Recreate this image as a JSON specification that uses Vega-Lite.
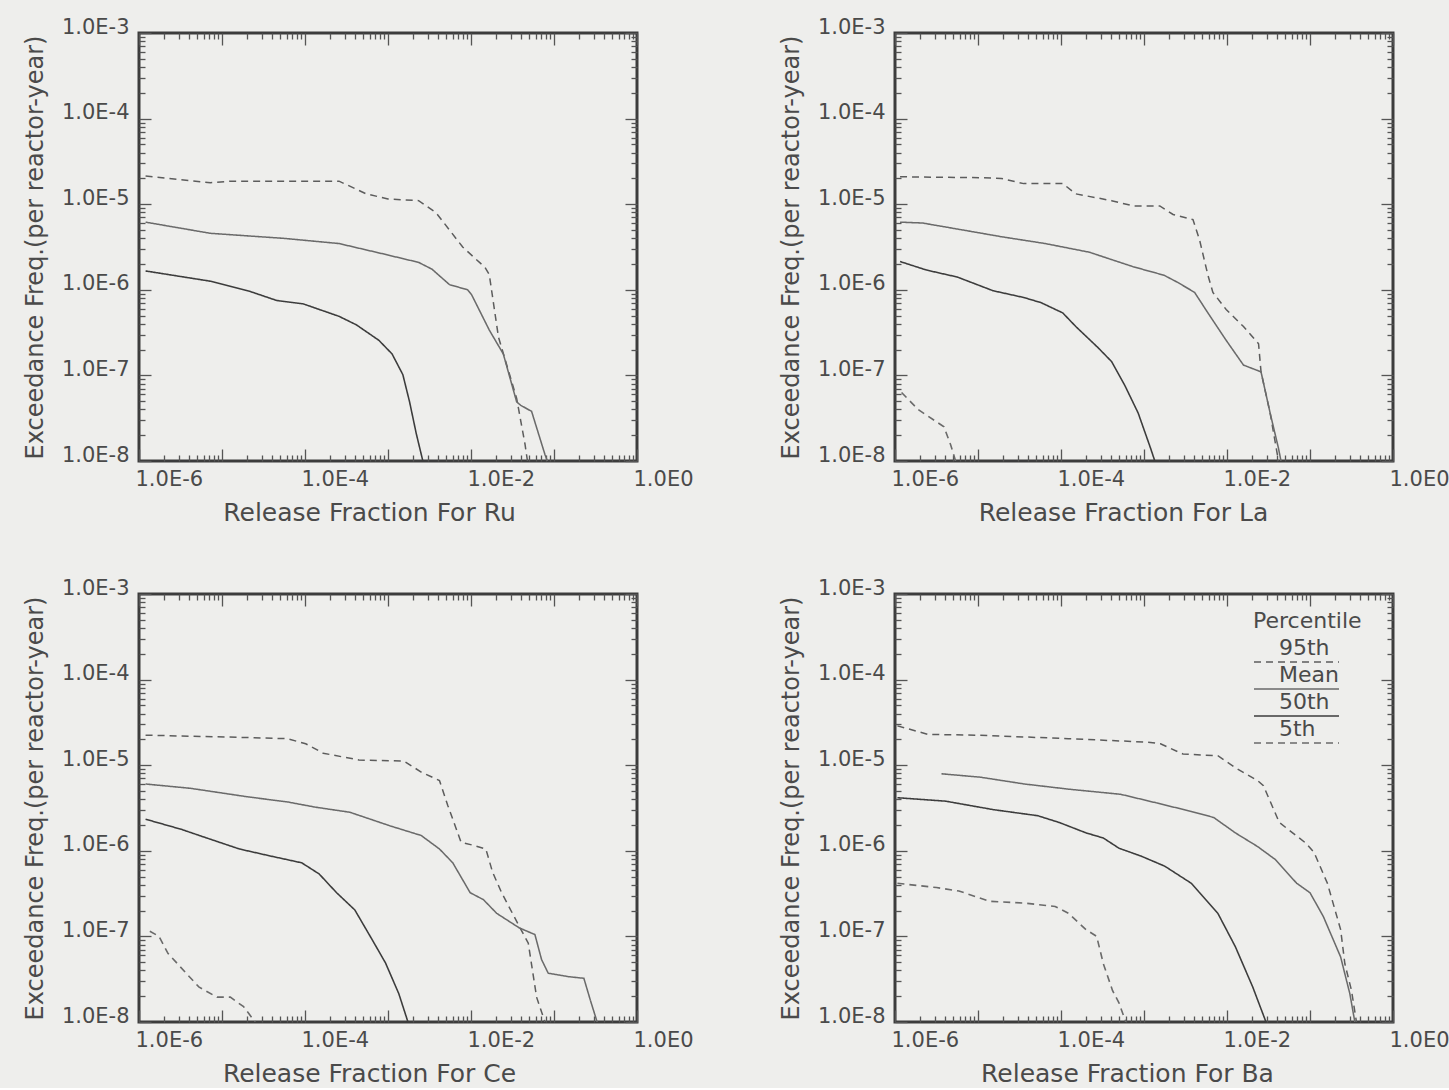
{
  "$schema": "https://vega.github.io/schema/vega-lite/v6.json",
  "background": "#eeeeec",
  "padding": {"left": 21, "top": 14, "right": 0, "bottom": 0},
  "config": {
    "font": "DejaVu Sans",
    "view": {"stroke": "#3c3c3c", "strokeWidth": 3},
    "axis": {"labelFontSize": 21, "labelColor": "#4a4a4a", "titleFontWeight": "normal", "titleColor": "#4a4a4a", "tickColor": "#555555", "tickWidth": 1.3},
    "axisX": {"titleFontSize": 25},
    "axisY": {"titleFontSize": 24},
    "legend": {"titleFontSize": 22, "labelFontSize": 22, "titleFontWeight": "normal", "titleColor": "#4a4a4a", "labelColor": "#4a4a4a"}
  },
  "datasets": {
    "curves": [
      {"el":"Ru","pct":"95th","x":1.20e-6,"y":2.14e-5},{"el":"Ru","pct":"95th","x":7.24e-6,"y":1.78e-5},{"el":"Ru","pct":"95th","x":1.26e-5,"y":1.86e-5},{"el":"Ru","pct":"95th","x":2.57e-4,"y":1.86e-5},{"el":"Ru","pct":"95th","x":5.37e-4,"y":1.33e-5},{"el":"Ru","pct":"95th","x":1.0e-3,"y":1.15e-5},{"el":"Ru","pct":"95th","x":2.34e-3,"y":1.10e-5},{"el":"Ru","pct":"95th","x":3.80e-3,"y":7.94e-6},{"el":"Ru","pct":"95th","x":7.94e-3,"y":3.16e-6},{"el":"Ru","pct":"95th","x":1.48e-2,"y":1.82e-6},{"el":"Ru","pct":"95th","x":1.66e-2,"y":1.51e-6},{"el":"Ru","pct":"95th","x":2.14e-2,"y":2.82e-7},{"el":"Ru","pct":"95th","x":3.55e-2,"y":5.37e-8},{"el":"Ru","pct":"95th","x":4.47e-2,"y":1.58e-8},{"el":"Ru","pct":"95th","x":4.79e-2,"y":1.0e-8},
      {"el":"Ru","pct":"Mean","x":1.20e-6,"y":6.17e-6},{"el":"Ru","pct":"Mean","x":7.24e-6,"y":4.57e-6},{"el":"Ru","pct":"Mean","x":5.75e-5,"y":3.98e-6},{"el":"Ru","pct":"Mean","x":2.57e-4,"y":3.47e-6},{"el":"Ru","pct":"Mean","x":8.71e-4,"y":2.63e-6},{"el":"Ru","pct":"Mean","x":2.34e-3,"y":2.09e-6},{"el":"Ru","pct":"Mean","x":3.39e-3,"y":1.74e-6},{"el":"Ru","pct":"Mean","x":5.50e-3,"y":1.15e-6},{"el":"Ru","pct":"Mean","x":9.12e-3,"y":1.0e-6},{"el":"Ru","pct":"Mean","x":1.02e-2,"y":8.71e-7},{"el":"Ru","pct":"Mean","x":1.66e-2,"y":3.39e-7},{"el":"Ru","pct":"Mean","x":2.45e-2,"y":1.78e-7},{"el":"Ru","pct":"Mean","x":3.55e-2,"y":4.90e-8},{"el":"Ru","pct":"Mean","x":3.98e-2,"y":4.47e-8},{"el":"Ru","pct":"Mean","x":5.37e-2,"y":3.80e-8},{"el":"Ru","pct":"Mean","x":7.76e-2,"y":1.20e-8},{"el":"Ru","pct":"Mean","x":8.32e-2,"y":1.0e-8},
      {"el":"Ru","pct":"50th","x":1.20e-6,"y":1.66e-6},{"el":"Ru","pct":"50th","x":7.24e-6,"y":1.26e-6},{"el":"Ru","pct":"50th","x":2.19e-5,"y":9.55e-7},{"el":"Ru","pct":"50th","x":4.57e-5,"y":7.50e-7},{"el":"Ru","pct":"50th","x":9.55e-5,"y":6.84e-7},{"el":"Ru","pct":"50th","x":2.57e-4,"y":4.90e-7},{"el":"Ru","pct":"50th","x":4.17e-4,"y":3.89e-7},{"el":"Ru","pct":"50th","x":7.76e-4,"y":2.57e-7},{"el":"Ru","pct":"50th","x":1.12e-3,"y":1.78e-7},{"el":"Ru","pct":"50th","x":1.51e-3,"y":1.02e-7},{"el":"Ru","pct":"50th","x":1.82e-3,"y":4.90e-8},{"el":"Ru","pct":"50th","x":2.19e-3,"y":2.09e-8},{"el":"Ru","pct":"50th","x":2.63e-3,"y":1.0e-8},

      {"el":"La","pct":"95th","x":1.15e-6,"y":2.09e-5},{"el":"La","pct":"95th","x":1.05e-5,"y":2.04e-5},{"el":"La","pct":"95th","x":1.91e-5,"y":2.00e-5},{"el":"La","pct":"95th","x":3.55e-5,"y":1.74e-5},{"el":"La","pct":"95th","x":1.05e-4,"y":1.74e-5},{"el":"La","pct":"95th","x":1.51e-4,"y":1.32e-5},{"el":"La","pct":"95th","x":4.07e-4,"y":1.10e-5},{"el":"La","pct":"95th","x":7.41e-4,"y":9.55e-6},{"el":"La","pct":"95th","x":1.55e-3,"y":9.55e-6},{"el":"La","pct":"95th","x":2.24e-3,"y":7.59e-6},{"el":"La","pct":"95th","x":3.89e-3,"y":6.61e-6},{"el":"La","pct":"95th","x":4.68e-3,"y":3.80e-6},{"el":"La","pct":"95th","x":5.89e-3,"y":1.48e-6},{"el":"La","pct":"95th","x":6.76e-3,"y":9.33e-7},{"el":"La","pct":"95th","x":9.77e-3,"y":5.89e-7},{"el":"La","pct":"95th","x":1.58e-2,"y":3.72e-7},{"el":"La","pct":"95th","x":2.40e-2,"y":2.34e-7},{"el":"La","pct":"95th","x":2.57e-2,"y":1.10e-7},{"el":"La","pct":"95th","x":3.31e-2,"y":3.63e-8},{"el":"La","pct":"95th","x":4.17e-2,"y":1.0e-8},
      {"el":"La","pct":"Mean","x":1.15e-6,"y":6.17e-6},{"el":"La","pct":"Mean","x":2.14e-6,"y":6.03e-6},{"el":"La","pct":"Mean","x":5.62e-6,"y":5.13e-6},{"el":"La","pct":"Mean","x":1.91e-5,"y":4.17e-6},{"el":"La","pct":"Mean","x":6.46e-5,"y":3.47e-6},{"el":"La","pct":"Mean","x":2.19e-4,"y":2.75e-6},{"el":"La","pct":"Mean","x":7.41e-4,"y":1.86e-6},{"el":"La","pct":"Mean","x":1.74e-3,"y":1.48e-6},{"el":"La","pct":"Mean","x":2.51e-3,"y":1.23e-6},{"el":"La","pct":"Mean","x":4.07e-3,"y":9.33e-7},{"el":"La","pct":"Mean","x":5.89e-3,"y":5.37e-7},{"el":"La","pct":"Mean","x":9.77e-3,"y":2.57e-7},{"el":"La","pct":"Mean","x":1.58e-2,"y":1.32e-7},{"el":"La","pct":"Mean","x":2.57e-2,"y":1.10e-7},{"el":"La","pct":"Mean","x":3.31e-2,"y":3.63e-8},{"el":"La","pct":"Mean","x":4.17e-2,"y":1.41e-8},{"el":"La","pct":"Mean","x":4.47e-2,"y":1.0e-8},
      {"el":"La","pct":"50th","x":1.15e-6,"y":2.14e-6},{"el":"La","pct":"50th","x":2.40e-6,"y":1.70e-6},{"el":"La","pct":"50th","x":5.62e-6,"y":1.41e-6},{"el":"La","pct":"50th","x":1.51e-5,"y":9.77e-7},{"el":"La","pct":"50th","x":3.55e-5,"y":8.13e-7},{"el":"La","pct":"50th","x":5.75e-5,"y":7.08e-7},{"el":"La","pct":"50th","x":1.05e-4,"y":5.37e-7},{"el":"La","pct":"50th","x":1.51e-4,"y":3.72e-7},{"el":"La","pct":"50th","x":2.82e-4,"y":2.09e-7},{"el":"La","pct":"50th","x":4.07e-4,"y":1.45e-7},{"el":"La","pct":"50th","x":5.89e-4,"y":7.59e-8},{"el":"La","pct":"50th","x":8.51e-4,"y":3.63e-8},{"el":"La","pct":"50th","x":1.20e-3,"y":1.41e-8},{"el":"La","pct":"50th","x":1.35e-3,"y":1.0e-8},
      {"el":"La","pct":"5th","x":1.20e-6,"y":6.31e-8},{"el":"La","pct":"5th","x":1.91e-6,"y":3.98e-8},{"el":"La","pct":"5th","x":3.89e-6,"y":2.51e-8},{"el":"La","pct":"5th","x":4.68e-6,"y":1.55e-8},{"el":"La","pct":"5th","x":5.37e-6,"y":1.0e-8},

      {"el":"Ce","pct":"95th","x":1.20e-6,"y":2.24e-5},{"el":"Ce","pct":"95th","x":1.10e-5,"y":2.14e-5},{"el":"Ce","pct":"95th","x":6.17e-5,"y":2.04e-5},{"el":"Ce","pct":"95th","x":1.02e-4,"y":1.78e-5},{"el":"Ce","pct":"95th","x":1.66e-4,"y":1.38e-5},{"el":"Ce","pct":"95th","x":4.47e-4,"y":1.15e-5},{"el":"Ce","pct":"95th","x":1.55e-3,"y":1.12e-5},{"el":"Ce","pct":"95th","x":2.51e-3,"y":8.32e-6},{"el":"Ce","pct":"95th","x":4.17e-3,"y":6.61e-6},{"el":"Ce","pct":"95th","x":5.25e-3,"y":3.39e-6},{"el":"Ce","pct":"95th","x":7.59e-3,"y":1.26e-6},{"el":"Ce","pct":"95th","x":1.10e-2,"y":1.15e-6},{"el":"Ce","pct":"95th","x":1.51e-2,"y":1.05e-6},{"el":"Ce","pct":"95th","x":1.82e-2,"y":5.62e-7},{"el":"Ce","pct":"95th","x":2.34e-2,"y":3.24e-7},{"el":"Ce","pct":"95th","x":3.80e-2,"y":1.32e-7},{"el":"Ce","pct":"95th","x":4.90e-2,"y":8.32e-8},{"el":"Ce","pct":"95th","x":6.17e-2,"y":1.95e-8},{"el":"Ce","pct":"95th","x":7.41e-2,"y":1.15e-8},{"el":"Ce","pct":"95th","x":7.76e-2,"y":1.0e-8},
      {"el":"Ce","pct":"Mean","x":1.20e-6,"y":6.03e-6},{"el":"Ce","pct":"Mean","x":4.17e-6,"y":5.37e-6},{"el":"Ce","pct":"Mean","x":2.04e-5,"y":4.27e-6},{"el":"Ce","pct":"Mean","x":6.17e-5,"y":3.72e-6},{"el":"Ce","pct":"Mean","x":1.32e-4,"y":3.24e-6},{"el":"Ce","pct":"Mean","x":3.47e-4,"y":2.82e-6},{"el":"Ce","pct":"Mean","x":1.07e-3,"y":1.95e-6},{"el":"Ce","pct":"Mean","x":2.51e-3,"y":1.51e-6},{"el":"Ce","pct":"Mean","x":4.17e-3,"y":1.05e-6},{"el":"Ce","pct":"Mean","x":6.03e-3,"y":7.24e-7},{"el":"Ce","pct":"Mean","x":9.77e-3,"y":3.24e-7},{"el":"Ce","pct":"Mean","x":1.41e-2,"y":2.69e-7},{"el":"Ce","pct":"Mean","x":2.04e-2,"y":1.86e-7},{"el":"Ce","pct":"Mean","x":3.80e-2,"y":1.26e-7},{"el":"Ce","pct":"Mean","x":5.89e-2,"y":1.05e-7},{"el":"Ce","pct":"Mean","x":7.08e-2,"y":5.37e-8},{"el":"Ce","pct":"Mean","x":8.51e-2,"y":3.72e-8},{"el":"Ce","pct":"Mean","x":1.48e-1,"y":3.39e-8},{"el":"Ce","pct":"Mean","x":2.29e-1,"y":3.24e-8},{"el":"Ce","pct":"Mean","x":2.75e-1,"y":1.78e-8},{"el":"Ce","pct":"Mean","x":3.31e-1,"y":1.0e-8},
      {"el":"Ce","pct":"50th","x":1.20e-6,"y":2.34e-6},{"el":"Ce","pct":"50th","x":3.24e-6,"y":1.78e-6},{"el":"Ce","pct":"50th","x":6.03e-6,"y":1.45e-6},{"el":"Ce","pct":"50th","x":1.62e-5,"y":1.05e-6},{"el":"Ce","pct":"50th","x":3.80e-5,"y":8.71e-7},{"el":"Ce","pct":"50th","x":9.12e-5,"y":7.24e-7},{"el":"Ce","pct":"50th","x":1.48e-4,"y":5.37e-7},{"el":"Ce","pct":"50th","x":2.40e-4,"y":3.24e-7},{"el":"Ce","pct":"50th","x":3.98e-4,"y":2.04e-7},{"el":"Ce","pct":"50th","x":6.46e-4,"y":9.12e-8},{"el":"Ce","pct":"50th","x":9.33e-4,"y":4.90e-8},{"el":"Ce","pct":"50th","x":1.35e-3,"y":2.14e-8},{"el":"Ce","pct":"50th","x":1.74e-3,"y":1.0e-8},
      {"el":"Ce","pct":"5th","x":1.35e-6,"y":1.15e-7},{"el":"Ce","pct":"5th","x":1.74e-6,"y":1.0e-7},{"el":"Ce","pct":"5th","x":2.24e-6,"y":6.31e-8},{"el":"Ce","pct":"5th","x":5.25e-6,"y":2.57e-8},{"el":"Ce","pct":"5th","x":8.71e-6,"y":1.95e-8},{"el":"Ce","pct":"5th","x":1.26e-5,"y":1.95e-8},{"el":"Ce","pct":"5th","x":1.82e-5,"y":1.51e-8},{"el":"Ce","pct":"5th","x":2.51e-5,"y":1.0e-8},

      {"el":"Ba","pct":"95th","x":1.07e-6,"y":2.88e-5},{"el":"Ba","pct":"95th","x":2.51e-6,"y":2.29e-5},{"el":"Ba","pct":"95th","x":1.07e-5,"y":2.24e-5},{"el":"Ba","pct":"95th","x":1.23e-4,"y":2.04e-5},{"el":"Ba","pct":"95th","x":1.10e-3,"y":1.86e-5},{"el":"Ba","pct":"95th","x":1.58e-3,"y":1.78e-5},{"el":"Ba","pct":"95th","x":2.95e-3,"y":1.35e-5},{"el":"Ba","pct":"95th","x":7.76e-3,"y":1.29e-5},{"el":"Ba","pct":"95th","x":1.26e-2,"y":9.33e-6},{"el":"Ba","pct":"95th","x":2.34e-2,"y":6.61e-6},{"el":"Ba","pct":"95th","x":2.75e-2,"y":5.75e-6},{"el":"Ba","pct":"95th","x":4.27e-2,"y":2.14e-6},{"el":"Ba","pct":"95th","x":8.91e-2,"y":1.23e-6},{"el":"Ba","pct":"95th","x":1.12e-1,"y":9.55e-7},{"el":"Ba","pct":"95th","x":1.62e-1,"y":4.17e-7},{"el":"Ba","pct":"95th","x":2.34e-1,"y":1.20e-7},{"el":"Ba","pct":"95th","x":2.63e-1,"y":4.79e-8},{"el":"Ba","pct":"95th","x":3.16e-1,"y":2.34e-8},{"el":"Ba","pct":"95th","x":3.63e-1,"y":1.0e-8},
      {"el":"Ba","pct":"Mean","x":3.63e-6,"y":7.94e-6},{"el":"Ba","pct":"Mean","x":1.07e-5,"y":7.24e-6},{"el":"Ba","pct":"Mean","x":3.63e-5,"y":6.03e-6},{"el":"Ba","pct":"Mean","x":1.23e-4,"y":5.25e-6},{"el":"Ba","pct":"Mean","x":5.25e-4,"y":4.57e-6},{"el":"Ba","pct":"Mean","x":1.41e-3,"y":3.63e-6},{"el":"Ba","pct":"Mean","x":3.72e-3,"y":2.88e-6},{"el":"Ba","pct":"Mean","x":6.92e-3,"y":2.45e-6},{"el":"Ba","pct":"Mean","x":1.26e-2,"y":1.62e-6},{"el":"Ba","pct":"Mean","x":2.34e-2,"y":1.12e-6},{"el":"Ba","pct":"Mean","x":3.80e-2,"y":7.94e-7},{"el":"Ba","pct":"Mean","x":6.92e-2,"y":4.17e-7},{"el":"Ba","pct":"Mean","x":1.0e-1,"y":3.24e-7},{"el":"Ba","pct":"Mean","x":1.45e-1,"y":1.70e-7},{"el":"Ba","pct":"Mean","x":2.34e-1,"y":5.75e-8},{"el":"Ba","pct":"Mean","x":3.02e-1,"y":2.14e-8},{"el":"Ba","pct":"Mean","x":3.47e-1,"y":1.0e-8},
      {"el":"Ba","pct":"50th","x":1.07e-6,"y":4.17e-6},{"el":"Ba","pct":"50th","x":4.07e-6,"y":3.80e-6},{"el":"Ba","pct":"50th","x":1.55e-5,"y":3.02e-6},{"el":"Ba","pct":"50th","x":5.25e-5,"y":2.57e-6},{"el":"Ba","pct":"50th","x":9.55e-5,"y":2.14e-6},{"el":"Ba","pct":"50th","x":2.00e-4,"y":1.62e-6},{"el":"Ba","pct":"50th","x":3.24e-4,"y":1.41e-6},{"el":"Ba","pct":"50th","x":5.01e-4,"y":1.07e-6},{"el":"Ba","pct":"50th","x":9.12e-4,"y":8.71e-7},{"el":"Ba","pct":"50th","x":1.78e-3,"y":6.61e-7},{"el":"Ba","pct":"50th","x":3.72e-3,"y":4.17e-7},{"el":"Ba","pct":"50th","x":7.76e-3,"y":1.86e-7},{"el":"Ba","pct":"50th","x":1.26e-2,"y":7.59e-8},{"el":"Ba","pct":"50th","x":2.04e-2,"y":2.57e-8},{"el":"Ba","pct":"50th","x":2.95e-2,"y":1.0e-8},
      {"el":"Ba","pct":"5th","x":1.07e-6,"y":4.17e-7},{"el":"Ba","pct":"5th","x":3.16e-6,"y":3.72e-7},{"el":"Ba","pct":"5th","x":5.89e-6,"y":3.39e-7},{"el":"Ba","pct":"5th","x":1.38e-5,"y":2.57e-7},{"el":"Ba","pct":"5th","x":3.63e-5,"y":2.45e-7},{"el":"Ba","pct":"5th","x":8.51e-5,"y":2.24e-7},{"el":"Ba","pct":"5th","x":1.23e-4,"y":1.86e-7},{"el":"Ba","pct":"5th","x":2.00e-4,"y":1.20e-7},{"el":"Ba","pct":"5th","x":2.69e-4,"y":1.0e-7},{"el":"Ba","pct":"5th","x":3.24e-4,"y":4.79e-8},{"el":"Ba","pct":"5th","x":4.17e-4,"y":2.34e-8},{"el":"Ba","pct":"5th","x":5.01e-4,"y":1.66e-8},{"el":"Ba","pct":"5th","x":6.03e-4,"y":1.0e-8}
    ]
  },
  "columns": 2,
  "spacing": {"row": 48, "column": 82},
  "resolve": {"scale": {"color": "independent", "strokeDash": "independent", "strokeWidth": "independent"}},
  "concat": [
    {
      "width": 498, "height": 428,
      "data": {"name": "curves"},
      "transform": [{"filter": "datum.el == 'Ru'"}],
      "layer": [
        {
          "mark": {"type": "line", "clip": true},
          "encoding": {
            "x": {"field": "x", "type": "quantitative", "title": "Release Fraction For Ru", "scale": {"type": "log", "domain": [1e-6, 1], "nice": false},
              "axis": {"orient": "bottom", "values": [1e-6,2e-6,3e-6,4e-6,5e-6,6e-6,7e-6,8e-6,9e-6,1e-5,2e-5,3e-5,4e-5,5e-5,6e-5,7e-5,8e-5,9e-5,1e-4,2e-4,3e-4,4e-4,5e-4,6e-4,7e-4,8e-4,9e-4,1e-3,2e-3,3e-3,4e-3,5e-3,6e-3,7e-3,8e-3,9e-3,1e-2,2e-2,3e-2,4e-2,5e-2,6e-2,7e-2,8e-2,9e-2,1e-1,2e-1,3e-1,4e-1,5e-1,6e-1,7e-1,8e-1,9e-1,1], "domain": false, "grid": false,
                "tickSize": {"condition": {"test": "abs(log(datum.value)/LN10 - round(log(datum.value)/LN10)) < 0.001", "value": -12}, "value": -6},
                "labelExpr": "abs(log(datum.value)/LN10 - round(log(datum.value)/LN10)) < 0.001 && round(log(datum.value)/LN10) % 2 == 0 ? '1.0E' + round(log(datum.value)/LN10) : ''",
                "labelAlign": "left", "labelBaseline": "top", "labelPadding": 19, "labelOffset": -4, "labelOverlap": false, "labelFlush": false, "titleX": 230, "titlePadding": 5}},
            "y": {"field": "y", "type": "quantitative", "title": "Exceedance Freq.(per reactor-year)", "scale": {"type": "log", "domain": [1e-8, 1e-3], "nice": false},
              "axis": {"orient": "left", "values": [1e-8,2e-8,3e-8,4e-8,5e-8,6e-8,7e-8,8e-8,9e-8,1e-7,2e-7,3e-7,4e-7,5e-7,6e-7,7e-7,8e-7,9e-7,1e-6,2e-6,3e-6,4e-6,5e-6,6e-6,7e-6,8e-6,9e-6,1e-5,2e-5,3e-5,4e-5,5e-5,6e-5,7e-5,8e-5,9e-5,1e-4,2e-4,3e-4,4e-4,5e-4,6e-4,7e-4,8e-4,9e-4,1e-3], "domain": false, "grid": false,
                "tickSize": {"condition": {"test": "abs(log(datum.value)/LN10 - round(log(datum.value)/LN10)) < 0.001", "value": -12}, "value": -6},
                "labelExpr": "abs(log(datum.value)/LN10 - round(log(datum.value)/LN10)) < 0.001 ? '1.0E' + round(log(datum.value)/LN10) : ''",
                "labelBaseline": "alphabetic", "labelPadding": 22, "labelOverlap": false, "labelFlush": false, "titlePadding": 14}},
            "strokeDash": {"field": "pct", "type": "nominal", "scale": {"domain": ["95th","Mean","50th","5th"], "range": [[7,5],[1,0],[1,0],[7,5]]}, "legend": null},
            "strokeWidth": {"field": "pct", "type": "nominal", "scale": {"domain": ["95th","Mean","50th","5th"], "range": [1.5,1.6,3,1.5]}, "legend": null},
            "color": {"field": "pct", "type": "nominal", "scale": {"domain": ["95th","Mean","50th","5th"], "range": ["#5c5c5c","#6a6a6a","#3c3c3c","#6a6a6a"]}, "legend": null}
          }
        },
        {
          "mark": {"type": "line", "opacity": 0},
          "encoding": {
            "x": {"field": "x", "type": "quantitative", "axis": {"orient": "top", "values": [1e-6,2e-6,3e-6,4e-6,5e-6,6e-6,7e-6,8e-6,9e-6,1e-5,2e-5,3e-5,4e-5,5e-5,6e-5,7e-5,8e-5,9e-5,1e-4,2e-4,3e-4,4e-4,5e-4,6e-4,7e-4,8e-4,9e-4,1e-3,2e-3,3e-3,4e-3,5e-3,6e-3,7e-3,8e-3,9e-3,1e-2,2e-2,3e-2,4e-2,5e-2,6e-2,7e-2,8e-2,9e-2,1e-1,2e-1,3e-1,4e-1,5e-1,6e-1,7e-1,8e-1,9e-1,1], "domain": false, "grid": false, "labels": false, "title": null,
              "tickSize": {"condition": {"test": "abs(log(datum.value)/LN10 - round(log(datum.value)/LN10)) < 0.001", "value": -12}, "value": -6}}},
            "y": {"field": "y", "type": "quantitative", "axis": {"orient": "right", "values": [1e-8,2e-8,3e-8,4e-8,5e-8,6e-8,7e-8,8e-8,9e-8,1e-7,2e-7,3e-7,4e-7,5e-7,6e-7,7e-7,8e-7,9e-7,1e-6,2e-6,3e-6,4e-6,5e-6,6e-6,7e-6,8e-6,9e-6,1e-5,2e-5,3e-5,4e-5,5e-5,6e-5,7e-5,8e-5,9e-5,1e-4,2e-4,3e-4,4e-4,5e-4,6e-4,7e-4,8e-4,9e-4,1e-3], "domain": false, "grid": false, "labels": false, "title": null,
              "tickSize": {"condition": {"test": "abs(log(datum.value)/LN10 - round(log(datum.value)/LN10)) < 0.001", "value": -12}, "value": -6}}}
          }
        }
      ],
      "resolve": {"axis": {"x": "independent", "y": "independent"}}
    },
    {
      "width": 498, "height": 428,
      "data": {"name": "curves"},
      "transform": [{"filter": "datum.el == 'La'"}],
      "layer": [
        {
          "mark": {"type": "line", "clip": true},
          "encoding": {
            "x": {"field": "x", "type": "quantitative", "title": "Release Fraction For La", "scale": {"type": "log", "domain": [1e-6, 1], "nice": false},
              "axis": {"orient": "bottom", "values": [1e-6,2e-6,3e-6,4e-6,5e-6,6e-6,7e-6,8e-6,9e-6,1e-5,2e-5,3e-5,4e-5,5e-5,6e-5,7e-5,8e-5,9e-5,1e-4,2e-4,3e-4,4e-4,5e-4,6e-4,7e-4,8e-4,9e-4,1e-3,2e-3,3e-3,4e-3,5e-3,6e-3,7e-3,8e-3,9e-3,1e-2,2e-2,3e-2,4e-2,5e-2,6e-2,7e-2,8e-2,9e-2,1e-1,2e-1,3e-1,4e-1,5e-1,6e-1,7e-1,8e-1,9e-1,1], "domain": false, "grid": false,
                "tickSize": {"condition": {"test": "abs(log(datum.value)/LN10 - round(log(datum.value)/LN10)) < 0.001", "value": -12}, "value": -6},
                "labelExpr": "abs(log(datum.value)/LN10 - round(log(datum.value)/LN10)) < 0.001 && round(log(datum.value)/LN10) % 2 == 0 ? '1.0E' + round(log(datum.value)/LN10) : ''",
                "labelAlign": "left", "labelBaseline": "top", "labelPadding": 19, "labelOffset": -4, "labelOverlap": false, "labelFlush": false, "titleX": 228, "titlePadding": 5}},
            "y": {"field": "y", "type": "quantitative", "title": "Exceedance Freq.(per reactor-year)", "scale": {"type": "log", "domain": [1e-8, 1e-3], "nice": false},
              "axis": {"orient": "left", "values": [1e-8,2e-8,3e-8,4e-8,5e-8,6e-8,7e-8,8e-8,9e-8,1e-7,2e-7,3e-7,4e-7,5e-7,6e-7,7e-7,8e-7,9e-7,1e-6,2e-6,3e-6,4e-6,5e-6,6e-6,7e-6,8e-6,9e-6,1e-5,2e-5,3e-5,4e-5,5e-5,6e-5,7e-5,8e-5,9e-5,1e-4,2e-4,3e-4,4e-4,5e-4,6e-4,7e-4,8e-4,9e-4,1e-3], "domain": false, "grid": false,
                "tickSize": {"condition": {"test": "abs(log(datum.value)/LN10 - round(log(datum.value)/LN10)) < 0.001", "value": -12}, "value": -6},
                "labelExpr": "abs(log(datum.value)/LN10 - round(log(datum.value)/LN10)) < 0.001 ? '1.0E' + round(log(datum.value)/LN10) : ''",
                "labelBaseline": "alphabetic", "labelPadding": 22, "labelOverlap": false, "labelFlush": false, "titlePadding": 14}},
            "strokeDash": {"field": "pct", "type": "nominal", "scale": {"domain": ["95th","Mean","50th","5th"], "range": [[7,5],[1,0],[1,0],[7,5]]}, "legend": null},
            "strokeWidth": {"field": "pct", "type": "nominal", "scale": {"domain": ["95th","Mean","50th","5th"], "range": [1.5,1.6,3,1.5]}, "legend": null},
            "color": {"field": "pct", "type": "nominal", "scale": {"domain": ["95th","Mean","50th","5th"], "range": ["#5c5c5c","#6a6a6a","#3c3c3c","#6a6a6a"]}, "legend": null}
          }
        },
        {
          "mark": {"type": "line", "opacity": 0},
          "encoding": {
            "x": {"field": "x", "type": "quantitative", "axis": {"orient": "top", "values": [1e-6,2e-6,3e-6,4e-6,5e-6,6e-6,7e-6,8e-6,9e-6,1e-5,2e-5,3e-5,4e-5,5e-5,6e-5,7e-5,8e-5,9e-5,1e-4,2e-4,3e-4,4e-4,5e-4,6e-4,7e-4,8e-4,9e-4,1e-3,2e-3,3e-3,4e-3,5e-3,6e-3,7e-3,8e-3,9e-3,1e-2,2e-2,3e-2,4e-2,5e-2,6e-2,7e-2,8e-2,9e-2,1e-1,2e-1,3e-1,4e-1,5e-1,6e-1,7e-1,8e-1,9e-1,1], "domain": false, "grid": false, "labels": false, "title": null,
              "tickSize": {"condition": {"test": "abs(log(datum.value)/LN10 - round(log(datum.value)/LN10)) < 0.001", "value": -12}, "value": -6}}},
            "y": {"field": "y", "type": "quantitative", "axis": {"orient": "right", "values": [1e-8,2e-8,3e-8,4e-8,5e-8,6e-8,7e-8,8e-8,9e-8,1e-7,2e-7,3e-7,4e-7,5e-7,6e-7,7e-7,8e-7,9e-7,1e-6,2e-6,3e-6,4e-6,5e-6,6e-6,7e-6,8e-6,9e-6,1e-5,2e-5,3e-5,4e-5,5e-5,6e-5,7e-5,8e-5,9e-5,1e-4,2e-4,3e-4,4e-4,5e-4,6e-4,7e-4,8e-4,9e-4,1e-3], "domain": false, "grid": false, "labels": false, "title": null,
              "tickSize": {"condition": {"test": "abs(log(datum.value)/LN10 - round(log(datum.value)/LN10)) < 0.001", "value": -12}, "value": -6}}}
          }
        }
      ],
      "resolve": {"axis": {"x": "independent", "y": "independent"}}
    },
    {
      "width": 498, "height": 428,
      "data": {"name": "curves"},
      "transform": [{"filter": "datum.el == 'Ce'"}],
      "layer": [
        {
          "mark": {"type": "line", "clip": true},
          "encoding": {
            "x": {"field": "x", "type": "quantitative", "title": "Release Fraction For Ce", "scale": {"type": "log", "domain": [1e-6, 1], "nice": false},
              "axis": {"orient": "bottom", "values": [1e-6,2e-6,3e-6,4e-6,5e-6,6e-6,7e-6,8e-6,9e-6,1e-5,2e-5,3e-5,4e-5,5e-5,6e-5,7e-5,8e-5,9e-5,1e-4,2e-4,3e-4,4e-4,5e-4,6e-4,7e-4,8e-4,9e-4,1e-3,2e-3,3e-3,4e-3,5e-3,6e-3,7e-3,8e-3,9e-3,1e-2,2e-2,3e-2,4e-2,5e-2,6e-2,7e-2,8e-2,9e-2,1e-1,2e-1,3e-1,4e-1,5e-1,6e-1,7e-1,8e-1,9e-1,1], "domain": false, "grid": false,
                "tickSize": {"condition": {"test": "abs(log(datum.value)/LN10 - round(log(datum.value)/LN10)) < 0.001", "value": -12}, "value": -6},
                "labelExpr": "abs(log(datum.value)/LN10 - round(log(datum.value)/LN10)) < 0.001 && round(log(datum.value)/LN10) % 2 == 0 ? '1.0E' + round(log(datum.value)/LN10) : ''",
                "labelAlign": "left", "labelBaseline": "top", "labelPadding": 19, "labelOffset": -4, "labelOverlap": false, "labelFlush": false, "titleX": 230, "titlePadding": 5}},
            "y": {"field": "y", "type": "quantitative", "title": "Exceedance Freq.(per reactor-year)", "scale": {"type": "log", "domain": [1e-8, 1e-3], "nice": false},
              "axis": {"orient": "left", "values": [1e-8,2e-8,3e-8,4e-8,5e-8,6e-8,7e-8,8e-8,9e-8,1e-7,2e-7,3e-7,4e-7,5e-7,6e-7,7e-7,8e-7,9e-7,1e-6,2e-6,3e-6,4e-6,5e-6,6e-6,7e-6,8e-6,9e-6,1e-5,2e-5,3e-5,4e-5,5e-5,6e-5,7e-5,8e-5,9e-5,1e-4,2e-4,3e-4,4e-4,5e-4,6e-4,7e-4,8e-4,9e-4,1e-3], "domain": false, "grid": false,
                "tickSize": {"condition": {"test": "abs(log(datum.value)/LN10 - round(log(datum.value)/LN10)) < 0.001", "value": -12}, "value": -6},
                "labelExpr": "abs(log(datum.value)/LN10 - round(log(datum.value)/LN10)) < 0.001 ? '1.0E' + round(log(datum.value)/LN10) : ''",
                "labelBaseline": "alphabetic", "labelPadding": 22, "labelOverlap": false, "labelFlush": false, "titlePadding": 14}},
            "strokeDash": {"field": "pct", "type": "nominal", "scale": {"domain": ["95th","Mean","50th","5th"], "range": [[7,5],[1,0],[1,0],[7,5]]}, "legend": null},
            "strokeWidth": {"field": "pct", "type": "nominal", "scale": {"domain": ["95th","Mean","50th","5th"], "range": [1.5,1.6,3,1.5]}, "legend": null},
            "color": {"field": "pct", "type": "nominal", "scale": {"domain": ["95th","Mean","50th","5th"], "range": ["#5c5c5c","#6a6a6a","#3c3c3c","#6a6a6a"]}, "legend": null}
          }
        },
        {
          "mark": {"type": "line", "opacity": 0},
          "encoding": {
            "x": {"field": "x", "type": "quantitative", "axis": {"orient": "top", "values": [1e-6,2e-6,3e-6,4e-6,5e-6,6e-6,7e-6,8e-6,9e-6,1e-5,2e-5,3e-5,4e-5,5e-5,6e-5,7e-5,8e-5,9e-5,1e-4,2e-4,3e-4,4e-4,5e-4,6e-4,7e-4,8e-4,9e-4,1e-3,2e-3,3e-3,4e-3,5e-3,6e-3,7e-3,8e-3,9e-3,1e-2,2e-2,3e-2,4e-2,5e-2,6e-2,7e-2,8e-2,9e-2,1e-1,2e-1,3e-1,4e-1,5e-1,6e-1,7e-1,8e-1,9e-1,1], "domain": false, "grid": false, "labels": false, "title": null,
              "tickSize": {"condition": {"test": "abs(log(datum.value)/LN10 - round(log(datum.value)/LN10)) < 0.001", "value": -12}, "value": -6}}},
            "y": {"field": "y", "type": "quantitative", "axis": {"orient": "right", "values": [1e-8,2e-8,3e-8,4e-8,5e-8,6e-8,7e-8,8e-8,9e-8,1e-7,2e-7,3e-7,4e-7,5e-7,6e-7,7e-7,8e-7,9e-7,1e-6,2e-6,3e-6,4e-6,5e-6,6e-6,7e-6,8e-6,9e-6,1e-5,2e-5,3e-5,4e-5,5e-5,6e-5,7e-5,8e-5,9e-5,1e-4,2e-4,3e-4,4e-4,5e-4,6e-4,7e-4,8e-4,9e-4,1e-3], "domain": false, "grid": false, "labels": false, "title": null,
              "tickSize": {"condition": {"test": "abs(log(datum.value)/LN10 - round(log(datum.value)/LN10)) < 0.001", "value": -12}, "value": -6}}}
          }
        }
      ],
      "resolve": {"axis": {"x": "independent", "y": "independent"}}
    },
    {
      "width": 498, "height": 428,
      "data": {"name": "curves"},
      "transform": [{"filter": "datum.el == 'Ba'"}],
      "layer": [
        {
          "mark": {"type": "line", "clip": true},
          "encoding": {
            "x": {"field": "x", "type": "quantitative", "title": "Release Fraction For Ba", "scale": {"type": "log", "domain": [1e-6, 1], "nice": false},
              "axis": {"orient": "bottom", "values": [1e-6,2e-6,3e-6,4e-6,5e-6,6e-6,7e-6,8e-6,9e-6,1e-5,2e-5,3e-5,4e-5,5e-5,6e-5,7e-5,8e-5,9e-5,1e-4,2e-4,3e-4,4e-4,5e-4,6e-4,7e-4,8e-4,9e-4,1e-3,2e-3,3e-3,4e-3,5e-3,6e-3,7e-3,8e-3,9e-3,1e-2,2e-2,3e-2,4e-2,5e-2,6e-2,7e-2,8e-2,9e-2,1e-1,2e-1,3e-1,4e-1,5e-1,6e-1,7e-1,8e-1,9e-1,1], "domain": false, "grid": false,
                "tickSize": {"condition": {"test": "abs(log(datum.value)/LN10 - round(log(datum.value)/LN10)) < 0.001", "value": -12}, "value": -6},
                "labelExpr": "abs(log(datum.value)/LN10 - round(log(datum.value)/LN10)) < 0.001 && round(log(datum.value)/LN10) % 2 == 0 ? '1.0E' + round(log(datum.value)/LN10) : ''",
                "labelAlign": "left", "labelBaseline": "top", "labelPadding": 19, "labelOffset": -4, "labelOverlap": false, "labelFlush": false, "titleX": 232, "titlePadding": 5}},
            "y": {"field": "y", "type": "quantitative", "title": "Exceedance Freq.(per reactor-year)", "scale": {"type": "log", "domain": [1e-8, 1e-3], "nice": false},
              "axis": {"orient": "left", "values": [1e-8,2e-8,3e-8,4e-8,5e-8,6e-8,7e-8,8e-8,9e-8,1e-7,2e-7,3e-7,4e-7,5e-7,6e-7,7e-7,8e-7,9e-7,1e-6,2e-6,3e-6,4e-6,5e-6,6e-6,7e-6,8e-6,9e-6,1e-5,2e-5,3e-5,4e-5,5e-5,6e-5,7e-5,8e-5,9e-5,1e-4,2e-4,3e-4,4e-4,5e-4,6e-4,7e-4,8e-4,9e-4,1e-3], "domain": false, "grid": false,
                "tickSize": {"condition": {"test": "abs(log(datum.value)/LN10 - round(log(datum.value)/LN10)) < 0.001", "value": -12}, "value": -6},
                "labelExpr": "abs(log(datum.value)/LN10 - round(log(datum.value)/LN10)) < 0.001 ? '1.0E' + round(log(datum.value)/LN10) : ''",
                "labelBaseline": "alphabetic", "labelPadding": 22, "labelOverlap": false, "labelFlush": false, "titlePadding": 14}},
            "strokeDash": {"field": "pct", "type": "nominal", "scale": {"domain": ["95th","Mean","50th","5th"], "range": [[7,5],[1,0],[1,0],[7,5]]},
              "legend": {"title": "Percentile", "orient": "none", "legendX": 358, "legendY": 17, "symbolType": "M-1,0.12L1,0.12", "symbolSize": 13689, "clipHeight": 18, "rowPadding": 0, "titlePadding": 13, "labelOffset": -93, "labelBaseline": "alphabetic", "labelExpr": "pad(datum.label, 11, '\u00a0')", "padding": 0}},
            "strokeWidth": {"field": "pct", "type": "nominal", "scale": {"domain": ["95th","Mean","50th","5th"], "range": [1.5,1.6,3,1.5]},
              "legend": {"title": "Percentile", "orient": "none", "legendX": 358, "legendY": 17, "symbolType": "M-1,0.12L1,0.12", "symbolSize": 13689, "clipHeight": 18, "rowPadding": 0, "titlePadding": 13, "labelOffset": -93, "labelBaseline": "alphabetic", "labelExpr": "pad(datum.label, 11, '\u00a0')", "padding": 0}},
            "color": {"field": "pct", "type": "nominal", "scale": {"domain": ["95th","Mean","50th","5th"], "range": ["#5c5c5c","#6a6a6a","#3c3c3c","#6a6a6a"]},
              "legend": {"title": "Percentile", "orient": "none", "legendX": 358, "legendY": 17, "symbolType": "M-1,0.12L1,0.12", "symbolSize": 13689, "clipHeight": 18, "rowPadding": 0, "titlePadding": 13, "labelOffset": -93, "labelBaseline": "alphabetic", "labelExpr": "pad(datum.label, 11, '\u00a0')", "padding": 0}}
          }
        },
        {
          "mark": {"type": "line", "opacity": 0},
          "encoding": {
            "x": {"field": "x", "type": "quantitative", "axis": {"orient": "top", "values": [1e-6,2e-6,3e-6,4e-6,5e-6,6e-6,7e-6,8e-6,9e-6,1e-5,2e-5,3e-5,4e-5,5e-5,6e-5,7e-5,8e-5,9e-5,1e-4,2e-4,3e-4,4e-4,5e-4,6e-4,7e-4,8e-4,9e-4,1e-3,2e-3,3e-3,4e-3,5e-3,6e-3,7e-3,8e-3,9e-3,1e-2,2e-2,3e-2,4e-2,5e-2,6e-2,7e-2,8e-2,9e-2,1e-1,2e-1,3e-1,4e-1,5e-1,6e-1,7e-1,8e-1,9e-1,1], "domain": false, "grid": false, "labels": false, "title": null,
              "tickSize": {"condition": {"test": "abs(log(datum.value)/LN10 - round(log(datum.value)/LN10)) < 0.001", "value": -12}, "value": -6}}},
            "y": {"field": "y", "type": "quantitative", "axis": {"orient": "right", "values": [1e-8,2e-8,3e-8,4e-8,5e-8,6e-8,7e-8,8e-8,9e-8,1e-7,2e-7,3e-7,4e-7,5e-7,6e-7,7e-7,8e-7,9e-7,1e-6,2e-6,3e-6,4e-6,5e-6,6e-6,7e-6,8e-6,9e-6,1e-5,2e-5,3e-5,4e-5,5e-5,6e-5,7e-5,8e-5,9e-5,1e-4,2e-4,3e-4,4e-4,5e-4,6e-4,7e-4,8e-4,9e-4,1e-3], "domain": false, "grid": false, "labels": false, "title": null,
              "tickSize": {"condition": {"test": "abs(log(datum.value)/LN10 - round(log(datum.value)/LN10)) < 0.001", "value": -12}, "value": -6}}}
          }
        }
      ],
      "resolve": {"axis": {"x": "independent", "y": "independent"}}
    }
  ]
}
